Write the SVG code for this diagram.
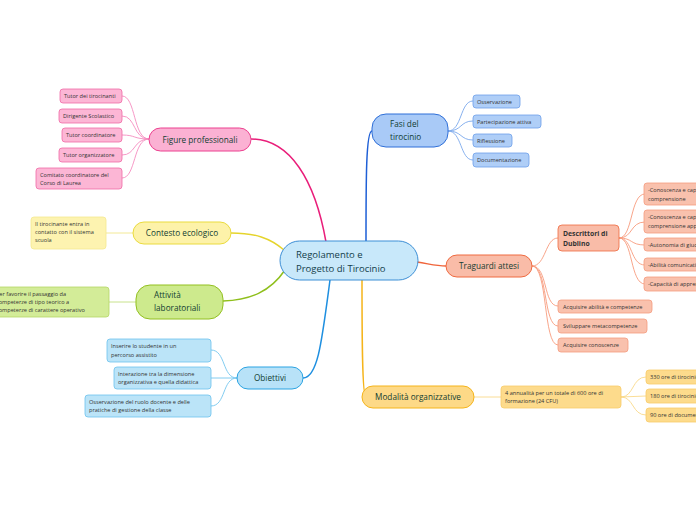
<svg xmlns="http://www.w3.org/2000/svg" width="696" height="520" viewBox="0 0 696 520">
<style>
text{font-family:"Open Sans","Noto Sans","Liberation Sans",sans-serif;}
.m{font-size:8.2px;fill:#113d32;}
.c{font-size:5.6px;fill:#333;}
.cn{fill:none;stroke-width:1.5;}
.cc{fill:none;stroke-width:0.9;}
.pk{fill:#fbb1d3;stroke:#ec4190;}
.pkc{fill:#fcb6d5;stroke:#f06aa6;stroke-width:0.8;}
.ye{fill:#fdf2a9;stroke:#eadb3e;}
.yec{fill:#fdf3b0;stroke:#f4e890;stroke-width:0.8;}
.gr{fill:#cdea8d;stroke:#93c021;}
.grc{fill:#d3ec98;stroke:#b5d766;stroke-width:0.8;}
.ob{fill:#b8e2f8;stroke:#2aa3e2;}
.obc{fill:#bbe4f8;stroke:#6cc2ee;stroke-width:0.8;}
.fa{fill:#a9caf7;stroke:#2f6fd8;}
.fac{fill:#afcef7;stroke:#6d9fea;stroke-width:0.8;}
.tr{fill:#f9bca8;stroke:#ef6a40;}
.trc{fill:#f9c1ad;stroke:#f59c7f;stroke-width:0.8;}
.mo{fill:#fdd987;stroke:#f5b41a;}
.moc{fill:#fddb8c;stroke:#f7cc6a;stroke-width:0.8;}
</style>
<rect width="696" height="520" fill="#fff"/>
<g id="connectors">
<path class="cn" stroke="#e91e7a" d="M326,242 C315,180 290,139 251,139"/>
<path class="cn" stroke="#e5d42c" d="M284,250 C270,238 255,233 231,233"/>
<path class="cn" stroke="#8fbf1c" d="M285,270 C270,292 250,300 223,301"/>
<path class="cn" stroke="#1e8fe0" d="M330,280 C322,340 318,378 303,378"/>
<path class="cn" stroke="#1e5fd6" d="M366,242 C366,180 366,131 372,131"/>
<path class="cn" stroke="#f0643a" d="M417,262 C430,264 436,266 446,266"/>
<path class="cn" stroke="#f5b41a" d="M362,280 C362,330 362,397 366,397"/>
<g stroke="#f58cc0">
<path class="cc" d="M149,139 C133,139 136,96 122,96"/>
<path class="cc" d="M149,139 C133,139 136,116 122,116"/>
<path class="cc" d="M149,139 C133,139 136,135 122,135"/>
<path class="cc" d="M149,139 C133,139 136,155 122,155"/>
<path class="cc" d="M149,139 C133,139 136,178 122,178"/>
</g>
<path class="cc" stroke="#f2e68a" d="M133,233 L106,233"/>
<path class="cc" stroke="#c2df80" d="M136,302 L109,302"/>
<g stroke="#74c6ee">
<path class="cc" d="M237,378 C222,378 226,350 211,350"/>
<path class="cc" d="M237,378 L211,378"/>
<path class="cc" d="M237,378 C222,378 226,406 211,406"/>
</g>
<g stroke="#7aa8ec">
<path class="cc" d="M448,131 C462,131 460,101 473,101"/>
<path class="cc" d="M448,131 C462,131 460,121 473,121"/>
<path class="cc" d="M448,131 C462,131 460,140 473,140"/>
<path class="cc" d="M448,131 C462,131 460,160 473,160"/>
</g>
<g stroke="#f79b7d">
<path class="cc" d="M532,266 C546,266 545,238 558,238"/>
<path class="cc" d="M532,266 C548,266 543,306 558,306"/>
<path class="cc" d="M532,266 C548,266 543,326 558,326"/>
<path class="cc" d="M532,266 C548,266 543,345 558,345"/>
<path class="cc" d="M619,238 C633,238 630,194 645,194"/>
<path class="cc" d="M619,238 C633,238 630,222 645,222"/>
<path class="cc" d="M619,238 C633,238 630,245 645,245"/>
<path class="cc" d="M619,238 C633,238 630,265 645,265"/>
<path class="cc" d="M619,238 C633,238 630,284 645,284"/>
</g>
<g stroke="#f9d98a">
<path class="cc" d="M474,397 L501,397"/>
<path class="cc" d="M621,397 C634,397 632,377 646,377"/>
<path class="cc" d="M621,397 L646,396"/>
<path class="cc" d="M621,397 C634,397 632,415 646,415"/>
</g>
</g>
<g id="center">
<rect x="280" y="241" width="138" height="39" rx="19.5" fill="#c8e8fa" stroke="#3d8fd6" stroke-width="1"/>
<text x="296" y="258" font-size="9.5" fill="#123d4a">Regolamento e</text>
<text x="296" y="272" font-size="9.5" fill="#123d4a">Progetto di Tirocinio</text>
</g>
<g id="figure">
<rect class="pk" x="149" y="128" width="102" height="23" rx="11.5"/>
<text class="m" x="200" y="142.5" text-anchor="middle">Figure professionali</text>
</g>
<g id="fig1"><rect class="pkc" x="60" y="89" width="62" height="14" rx="3"/><text class="c" x="64" y="98">Tutor dei tirocinanti</text></g>
<g id="fig2"><rect class="pkc" x="59" y="109" width="63" height="14" rx="3"/><text class="c" x="63" y="118">Dirigente Scolastico</text></g>
<g id="fig3"><rect class="pkc" x="62" y="128" width="60" height="14" rx="3"/><text class="c" x="66" y="137">Tutor coordinatore</text></g>
<g id="fig4"><rect class="pkc" x="59" y="148" width="63" height="14" rx="3"/><text class="c" x="63" y="157">Tutor organizzatore</text></g>
<g id="fig5"><rect class="pkc" x="36" y="168" width="86" height="21" rx="3"/><text class="c" x="40" y="176.5">Comitato coordinatore del</text><text class="c" x="40" y="185">Corso di Laurea</text></g>
<g id="contesto">
<rect class="ye" x="133" y="222" width="98" height="22" rx="11"/>
<text class="m" x="182" y="236" text-anchor="middle">Contesto ecologico</text>
</g>
<g id="contesto1"><rect class="yec" x="31" y="217" width="75" height="32" rx="3"/><text class="c" x="35" y="226">Il tirocinante entra in</text><text class="c" x="35" y="234">contatto con il sistema</text><text class="c" x="35" y="242">scuola</text></g>
<g id="attivita">
<rect class="gr" x="136" y="285" width="87" height="34" rx="14"/>
<text class="m" x="154" y="298">Attività</text>
<text class="m" x="154" y="311">laboratoriali</text>
</g>
<g id="attivita1"><rect class="grc" x="-8" y="287" width="117" height="30" rx="3"/><text class="c" x="-4" y="295.5">Per favorire il passaggio da</text><text class="c" x="-4" y="303.5">competerze di tipo teorico a</text><text class="c" x="-4" y="311.5">competerze di carattere operativo</text></g>
<g id="obiettivi">
<rect class="ob" x="237" y="367" width="66" height="22" rx="11"/>
<text class="m" x="270" y="381" text-anchor="middle">Obiettivi</text>
</g>
<g id="ob1"><rect class="obc" x="107" y="339" width="104" height="23" rx="3"/><text class="c" x="111" y="348">Inserire lo studente in un</text><text class="c" x="111" y="356.5">percorso assistito</text></g>
<g id="ob2"><rect class="obc" x="114" y="367" width="97" height="22" rx="3"/><text class="c" x="118" y="375.5">Interazione tra la dimensione</text><text class="c" x="118" y="384">organizzativa e quella didattica</text></g>
<g id="ob3"><rect class="obc" x="85" y="395" width="126" height="22" rx="3"/><text class="c" x="89" y="403.5">Osservazione del ruolo docente e delle</text><text class="c" x="89" y="412">pratiche di gestione della classe</text></g>
<g id="fasi">
<rect class="fa" x="372" y="114" width="76" height="33" rx="14"/>
<text class="m" x="390" y="127">Fasi del</text>
<text class="m" x="390" y="140">tirocinio</text>
</g>
<g id="fa1"><rect class="fac" x="473" y="95" width="47" height="13" rx="3"/><text class="c" x="477" y="103.5">Osservazione</text></g>
<g id="fa2"><rect class="fac" x="473" y="115" width="68" height="13" rx="3"/><text class="c" x="477" y="123.5">Partecipazione attiva</text></g>
<g id="fa3"><rect class="fac" x="473" y="134" width="39" height="13" rx="3"/><text class="c" x="477" y="142.5">Riflessione</text></g>
<g id="fa4"><rect class="fac" x="473" y="153" width="56" height="14" rx="3"/><text class="c" x="477" y="162">Documentazione</text></g>
<g id="traguardi">
<rect class="tr" x="446" y="255" width="86" height="22" rx="11"/>
<text class="m" x="489" y="269" text-anchor="middle">Traguardi attesi</text>
</g>
<g id="dublino"><rect class="tr" x="558" y="225" width="61" height="26" rx="4" stroke-width="0.8"/><text x="563" y="236" font-size="6.8" font-weight="bold" fill="#333">Descrittori di</text><text x="563" y="246" font-size="6.8" font-weight="bold" fill="#333">Dublino</text></g>
<g id="du1"><rect class="trc" x="644" y="183" width="70" height="22" rx="3"/><text class="c" x="648" y="192">-Conoscenza e capacità di</text><text class="c" x="648" y="200.5">comprensione</text></g>
<g id="du2"><rect class="trc" x="644" y="210" width="70" height="23" rx="3"/><text class="c" x="648" y="219">-Conoscenza e capacità di</text><text class="c" x="648" y="227.5">comprensione applicate</text></g>
<g id="du3"><rect class="trc" x="644" y="238" width="70" height="13" rx="3"/><text class="c" x="648" y="246.5">-Autonomia di giudizio</text></g>
<g id="du4"><rect class="trc" x="644" y="258" width="70" height="13" rx="3"/><text class="c" x="648" y="266.5">-Abilità comunicative</text></g>
<g id="du5"><rect class="trc" x="644" y="277" width="70" height="14" rx="3"/><text class="c" x="648" y="286">-Capacità di apprendere</text></g>
<g id="tr2"><rect class="trc" x="558" y="300" width="94" height="13" rx="3"/><text class="c" x="563" y="308.5">Acquisire abilità e competenze</text></g>
<g id="tr3"><rect class="trc" x="558" y="319" width="89" height="14" rx="3"/><text class="c" x="563" y="328">Sviluppare metacompetenze</text></g>
<g id="tr4"><rect class="trc" x="558" y="338" width="70" height="14" rx="3"/><text class="c" x="563" y="347">Acquisire conoscenze</text></g>
<g id="modalita">
<rect class="mo" x="362" y="386" width="112" height="22" rx="11"/>
<text class="m" x="418" y="400" text-anchor="middle">Modalità organizzative</text>
</g>
<g id="mo1"><rect class="moc" x="501" y="386" width="120" height="22" rx="3"/><text class="c" x="505" y="394.5">4 annualità per un totale di 600 ore di</text><text class="c" x="505" y="403">formazione (24 CFU)</text></g>
<g id="mo2"><rect class="moc" x="646" y="370" width="70" height="14" rx="3"/><text class="c" x="650" y="379">330 ore di tirocinio diretto</text></g>
<g id="mo3"><rect class="moc" x="646" y="389" width="70" height="14" rx="3"/><text class="c" x="650" y="398">180 ore di tirocinio indiretto</text></g>
<g id="mo4"><rect class="moc" x="646" y="408" width="70" height="14" rx="3"/><text class="c" x="650" y="417">90 ore di documentazione</text></g>
</svg>
